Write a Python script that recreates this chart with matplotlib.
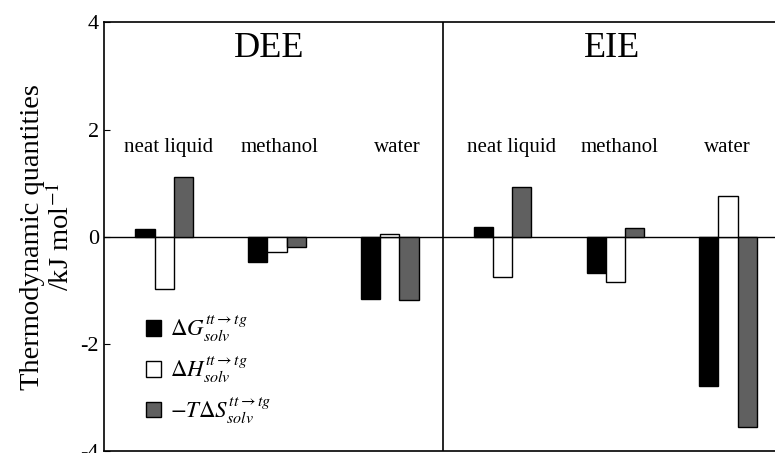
import matplotlib
matplotlib.use('Agg')
import matplotlib.pyplot as plt
import numpy as np

plt.rcParams['font.family'] = ['Liberation Serif', 'DejaVu Serif']
plt.rcParams['mathtext.fontset'] = 'stix'
plt.rcParams['axes.unicode_minus'] = False

# solvents per molecule (kJ/mol)
solvents = ['neat liquid', 'methanol', 'water', 'neat liquid', 'methanol', 'water']
molecules = ['DEE', 'EIE']
dG = [0.14, -0.47, -1.16, 0.19, -0.68, -2.79]
dH = [-0.97, -0.28, 0.05, -0.76, -0.84, 0.76]
mTdS = [1.12, -0.19, -1.18, 0.93, 0.16, -3.56]
yticks = [-4, -2, 0, 2, 4]

labels = [r'$\Delta G_{solv}^{tt\rightarrow tg}$',
          r'$\Delta H_{solv}^{tt\rightarrow tg}$',
          r'$-T\Delta S_{solv}^{tt\rightarrow tg}$']

fig = plt.figure(figsize=(7.75, 4.53), dpi=100)
ax = fig.add_axes([0.1348, 0.0044, 0.873, 0.946])

x = np.arange(len(solvents)) + 0.53
w = 0.17
b1 = ax.bar(x - w, dG, w, color='black', edgecolor='black', lw=1)
b2 = ax.bar(x, dH, w, color='white', edgecolor='black', lw=1)
b3 = ax.bar(x + w, mTdS, w, color='#606060', edgecolor='black', lw=1)

ax.axhline(0, color='black', lw=1, zorder=0)
ax.axvline(3, color='black', lw=1.2)

# group labels
label_x = [0.57, 1.55, 2.6, 3.61, 4.57, 5.52]
for xi, s in zip(label_x, solvents):
    ax.text(xi, 1.66, s, ha='center', va='center', fontsize=15)
for xi, m in zip([1.46, 4.5], molecules):
    ax.text(xi, 3.52, m, ha='center', va='center', fontsize=26)

ax.set_xlim(0, 6)
ax.set_ylim(-4, 4)
ax.set_xticks([])
ax.set_yticks(yticks)
ax.set_yticklabels([str(t) for t in yticks], fontsize=16)
ax.tick_params(axis='y', direction='in', length=4, width=0.8, pad=4)
ax.spines['right'].set_visible(False)
for sp in ['left', 'top', 'bottom']:
    ax.spines[sp].set_linewidth(1.2)

ax.set_ylabel('Thermodynamic quantities\n/kJ mol$^{-1}$', fontsize=20.5,
              linespacing=1.1, labelpad=4)

ax.legend([b1, b2, b3], labels, loc='center left', bbox_to_anchor=(0.045, 0.19),
          frameon=False, fontsize=16.5, handlelength=0.65, handleheight=0.65,
          handletextpad=0.4, labelspacing=0.45, borderpad=0)

fig.savefig('out.png', dpi=100)
